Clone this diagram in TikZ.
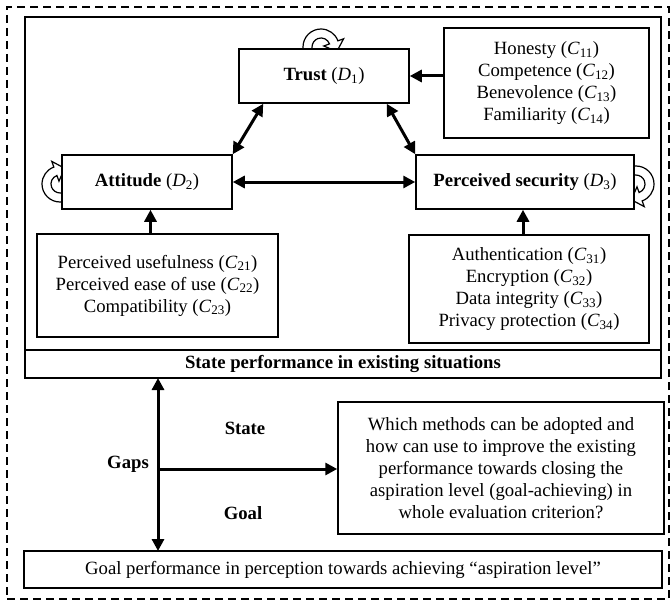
\documentclass[tikz,border=0pt]{standalone}
\usepackage{fontspec}
\setmainfont{Liberation Serif}
\usetikzlibrary{arrows.meta}
\newcommand{\vr}[2]{\textit{#1}\textsubscript{#2}}
\tikzset{
  box/.style={draw, line width=1.5pt, inner sep=0pt, align=center, font=\fontsize{18.7}{22}\selectfont},
  arr/.style={line width=3pt, -{Triangle[length=12pt,width=12pt]}},
  darr/.style={line width=3pt, {Triangle[length=12pt,width=12pt]}-{Triangle[length=12pt,width=12pt]}},
  lbl/.style={font=\fontsize{18.7}{22}\selectfont\bfseries},
  selfloop/.style={draw, line width=1.2pt, fill=white}
}
\newcommand{\loopshape}{%
  \path[selfloop] (-18,-2) -- (-18,0) arc[start angle=180,end angle=20,radius=18]
    -- (22.6,8.2) -- (15.8,-4.5) -- (2.8,1.0) -- (8.5,3.1)
    arc[start angle=20,end angle=180,radius=9] -- (-9,-2) -- cycle;}
\begin{document}
\begin{tikzpicture}[x=1pt,y=-1pt]
\useasboundingbox (0,0) rectangle (672,602);
% outer dashed frame
\node[draw, line width=1.4pt, dash pattern=on 8pt off 5pt, minimum width=662pt, minimum height=592pt] (frame) at (338,303) {};
% main box and state row
\node[box, minimum width=636pt, minimum height=333pt] (main) at (343,183.5) {};
\node[box, minimum width=636pt, minimum height=28pt] (state) at (343,364) {\textbf{State performance in existing situations}};
% loops (drawn before boxes)
\begin{scope}[shift={(321,47)}, y=1pt] \loopshape \end{scope}
\begin{scope}[shift={(60,184)}, y=1pt, rotate=90] \loopshape \end{scope}
\begin{scope}[shift={(636,184)}, y=1pt, rotate=-90] \loopshape \end{scope}
% dimension boxes
\node[box, fill=white, minimum width=170pt, minimum height=54pt] (trust) at (324,76) {\textbf{Trust} (\vr{D}{1})};
\node[box, fill=white, minimum width=170pt, minimum height=54pt] (att) at (147,182) {\textbf{Attitude} (\vr{D}{2})};
\node[box, fill=white, minimum width=218pt, minimum height=54pt] (sec) at (525,182) {\textbf{Perceived security} (\vr{D}{3})};
% criteria boxes
\node[box, minimum width=205pt, minimum height=110pt] (c1) at (546.5,83) {Honesty (\vr{C}{11})\\Competence (\vr{C}{12})\\Benevolence (\vr{C}{13})\\Familiarity (\vr{C}{14})};
\node[box, minimum width=241pt, minimum height=103pt] (c2) at (157.5,285.5) {Perceived usefulness (\vr{C}{21})\\Perceived ease of use (\vr{C}{22})\\Compatibility (\vr{C}{23})};
\node[box, minimum width=240pt, minimum height=108pt] (c3) at (529,289) {Authentication (\vr{C}{31})\\Encryption (\vr{C}{32})\\Data integrity (\vr{C}{33})\\Privacy protection (\vr{C}{34})};
% lower part
\node[box, minimum width=326pt, minimum height=132pt] (q) at (501,468) {Which methods can be adopted and\\how can use to improve the existing\\performance towards closing the\\aspiration level (goal-achieving) in\\whole evaluation criterion?};
\node[box, minimum width=638pt, minimum height=37pt] (goal) at (343,569.5) {Goal performance in perception towards achieving “aspiration level”};
\coordinate (gtop) at (158,378);
\coordinate (gbot) at (158,551);
\coordinate (junc) at (158,469);
\node[lbl] (lstate) at (245,428) {State};
\node[lbl] (lgaps) at (128,464) {Gaps};
\node[lbl] (lgoal) at (243,513) {Goal};
% connectors
\draw[arr] (c1.west |- trust.east) -- (trust.east);
\draw[darr] (att.north east) -- ([xshift=25pt]trust.south west);
\draw[darr] ([xshift=-23pt]trust.south east) -- (sec.north west);
\draw[darr] (att.east) -- (sec.west);
\draw[arr] ([xshift=-7pt]c2.north) -- ([xshift=-7pt]c2.north |- att.south);
\draw[arr] ([xshift=-6pt]c3.north) -- ([xshift=-6pt]c3.north |- sec.south);
\draw[darr] (gtop) -- (gbot);
\draw[arr] (junc) -- (junc -| q.west);
\end{tikzpicture}
\end{document}
